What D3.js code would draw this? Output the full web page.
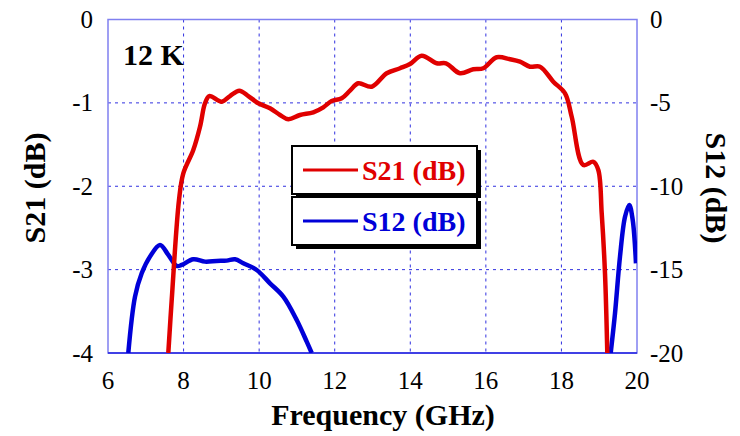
<!DOCTYPE html>
<html>
<head>
<meta charset="utf-8">
<script src="https://cdn.jsdelivr.net/npm/d3@7"></script>
<style>
  body { margin: 0; background: #fff; }
  text { font-family: "Liberation Serif", "Times New Roman", serif; }
</style>
</head>
<body>
<svg id="chart" width="740" height="436"></svg>
<script>
// S21 (left axis, dB)
var s21Freq = [7.596, 7.686, 7.879, 7.993, 8.257, 8.435, 8.567, 8.681, 9.009, 9.229, 9.475, 9.713, 9.978,
  10.287, 10.552, 10.772, 11.081, 11.433, 11.698, 11.92, 12.185, 12.404, 12.624, 12.979, 13.376, 13.728,
  13.993, 14.302, 14.699, 14.945, 15.316, 15.668, 15.932, 16.287, 16.639, 16.903, 17.168, 17.433, 17.785,
  18.095, 18.272, 18.579, 18.843, 18.976, 19.066, 19.153, 19.214];
var s21Val = [-4.0, -3.364, -2.165, -1.845, -1.565, -1.286, -1.005, -0.918, -0.986, -0.918, -0.854, -0.918, -1.005,
  -1.065, -1.145, -1.197, -1.145, -1.113, -1.053, -0.978, -0.945, -0.854, -0.765, -0.806, -0.645, -0.585,
  -0.534, -0.434, -0.525, -0.525, -0.645, -0.597, -0.585, -0.453, -0.477, -0.506, -0.566, -0.566, -0.746,
  -0.885, -1.166, -1.745, -1.706, -1.805, -2.324, -3.044, -4.0];

// S12 (right axis, dB), null splits the two visible pieces
var s12Freq = [6.537, 6.715, 6.892, 7.111, 7.376, 7.596, 7.818, 7.95, 8.257, 8.567, 8.877, 9.141, 9.361,
  9.581, 9.935, 10.287, 10.639, 10.994, 11.259, 11.391, null,
  19.304, 19.418, 19.55, 19.683, 19.796, 19.886, 19.973];
var s12Val = [-20.0, -16.62, -15.22, -14.22, -13.52, -14.12, -14.78, -14.72, -14.38, -14.52, -14.48, -14.46, -14.38,
  -14.62, -15.02, -15.82, -16.62, -18.02, -19.32, -20.0, null,
  -20.0, -17.62, -14.22, -11.83, -11.12, -12.02, -14.62];

var xTicks = [6, 8, 10, 12, 14, 16, 18, 20];
var leftTicks = [0, -1, -2, -3, -4];
var rightTicks = [0, -5, -10, -15, -20];

var svg = d3.select("#chart");
var pLeft = 108, pRight = 637, pTop = 19.5, pBottom = 353;

var x = d3.scaleLinear().domain([6, 20]).range([pLeft, pRight]);
var yL = d3.scaleLinear().domain([-4, 0]).range([pBottom, pTop]);
var yR = d3.scaleLinear().domain([-20, 0]).range([pBottom, pTop]);

svg.append("defs").append("clipPath").attr("id", "plotclip")
  .append("rect").attr("x", pLeft).attr("y", pTop).attr("width", pRight - pLeft).attr("height", pBottom - pTop);

// grid
var grid = svg.append("g");
grid.selectAll("line.v").data(xTicks.slice(1, -1)).enter().append("line")
  .attr("x1", function(d){ return x(d); }).attr("x2", function(d){ return x(d); })
  .attr("y1", pTop).attr("y2", pBottom)
  .attr("stroke", "#3030e0").attr("stroke-width", 1).attr("stroke-dasharray", "3,4");
grid.selectAll("line.h").data(leftTicks.slice(1, -1)).enter().append("line")
  .attr("x1", pLeft).attr("x2", pRight)
  .attr("y1", function(d){ return yL(d); }).attr("y2", function(d){ return yL(d); })
  .attr("stroke", "#3030e0").attr("stroke-width", 1).attr("stroke-dasharray", "3,4");

// frame
svg.append("rect").attr("x", pLeft).attr("y", pTop).attr("width", pRight - pLeft).attr("height", pBottom - pTop)
  .attr("fill", "none").attr("stroke", "#8080f0").attr("stroke-width", 1.5);
svg.append("line").attr("x1", pLeft).attr("x2", pRight).attr("y1", pBottom).attr("y2", pBottom)
  .attr("stroke", "#2020e0").attr("stroke-width", 1.5);

// curves
var plot = svg.append("g").attr("clip-path", "url(#plotclip)");
var lineL = d3.line()
  .x(function(d){ return x(d[0]); }).y(function(d){ return yL(d[1]); })
  .curve(d3.curveCatmullRom);
var lineR = d3.line()
  .defined(function(d){ return d[0] !== null; })
  .x(function(d){ return x(d[0]); }).y(function(d){ return yR(d[1]); })
  .curve(d3.curveCatmullRom);

plot.append("path").datum(d3.zip(s12Freq, s12Val))
  .attr("d", lineR).attr("fill", "none").attr("stroke", "#0000d8").attr("stroke-width", 4.5)
  .attr("stroke-linejoin", "round");
plot.append("path").datum(d3.zip(s21Freq, s21Val))
  .attr("d", lineL).attr("fill", "none").attr("stroke", "#e00000").attr("stroke-width", 4.5)
  .attr("stroke-linejoin", "round");

// tick labels
svg.append("g").selectAll("text").data(leftTicks).enter().append("text")
  .attr("x", 93).attr("y", function(d){ return yL(d) + 8.5; })
  .attr("text-anchor", "end").attr("font-size", 25).text(function(d){ return d; });
svg.append("g").selectAll("text").data(rightTicks).enter().append("text")
  .attr("x", 650).attr("y", function(d){ return yR(d) + 8.5; })
  .attr("text-anchor", "start").attr("font-size", 25).text(function(d){ return d; });
svg.append("g").selectAll("text").data(xTicks).enter().append("text")
  .attr("x", function(d){ return x(d); }).attr("y", 389)
  .attr("text-anchor", "middle").attr("font-size", 25).text(function(d){ return d; });

// axis titles
svg.append("text").attr("x", 383).attr("y", 425).attr("text-anchor", "middle")
  .attr("font-size", 30).attr("font-weight", "bold").text("Frequency (GHz)");
svg.append("text").attr("transform", "translate(45,188) rotate(-90)").attr("text-anchor", "middle")
  .attr("font-size", 30).attr("font-weight", "bold").text("S21 (dB)");
svg.append("text").attr("transform", "translate(706,188) rotate(90)").attr("text-anchor", "middle")
  .attr("font-size", 30).attr("font-weight", "bold").text("S12 (dB)");

svg.append("text").attr("x", 123).attr("y", 65).attr("font-size", 30).attr("font-weight", "bold").text("12 K");

// legend
var legend = [
  {name: "S21 (dB)", color: "#e00000", y: 146},
  {name: "S12 (dB)", color: "#0000d8", y: 197}
];
var lg = svg.append("g").selectAll("g").data(legend).enter().append("g");
lg.append("rect").attr("x", 296).attr("y", function(d){ return d.y + 4; })
  .attr("width", 185).attr("height", 48).attr("fill", "#000");
lg.append("rect").attr("x", 292).attr("y", function(d){ return d.y; })
  .attr("width", 185).attr("height", 48).attr("fill", "#fff").attr("stroke", "#000").attr("stroke-width", 2);
lg.append("line").attr("x1", 303).attr("x2", 358)
  .attr("y1", function(d){ return d.y + 24; }).attr("y2", function(d){ return d.y + 24; })
  .attr("stroke", function(d){ return d.color; }).attr("stroke-width", 3);
lg.append("text").attr("x", 362).attr("y", function(d){ return d.y + 34; })
  .attr("font-size", 28).attr("font-weight", "bold").attr("fill", function(d){ return d.color; })
  .text(function(d){ return d.name; });
</script>
</body>
</html>
